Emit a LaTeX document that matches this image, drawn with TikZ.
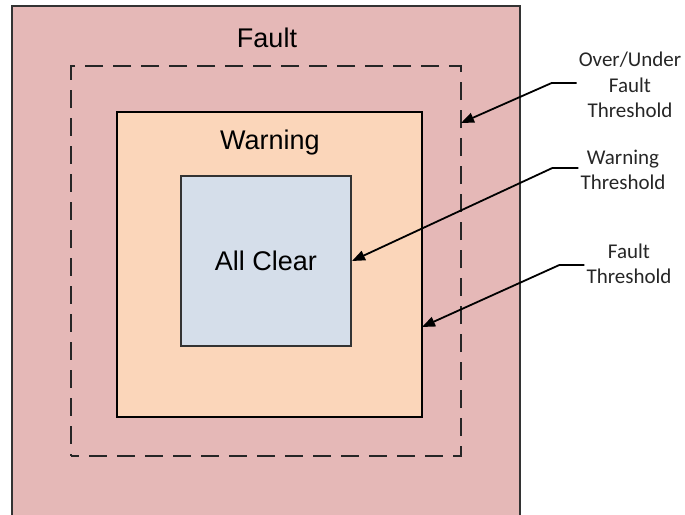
\documentclass[tikz,border=0pt]{standalone}
\usepackage{fontspec}
\setmainfont{Liberation Sans}
\newfontfamily\annfont{Carlito}
\usetikzlibrary{arrows.meta}
\definecolor{faultfill}{HTML}{E5B8B7}
\definecolor{warnfill}{HTML}{FBD6BA}
\definecolor{clearfill}{HTML}{D5DEEA}
\definecolor{edgegray}{HTML}{333333}
\tikzset{
  zone/.style={rectangle, inner sep=0pt, line width=2pt},
  biglabel/.style={font=\fontsize{27}{32}\selectfont, inner sep=0pt},
  annot/.style={font=\annfont\fontsize{21}{25.5}\selectfont, align=center, inner sep=2pt, text=black!85},
  pointer/.style={line width=1.8pt, -{Triangle[length=13pt,width=10pt]}}
}
\begin{document}
\begin{tikzpicture}[x=1pt,y=-1pt]
\useasboundingbox (0,0) rectangle (685,514);
\clip (0,0) rectangle (685,514);
% outer fault zone
\node[zone, draw=edgegray, fill=faultfill, minimum width=508pt, minimum height=510pt] (fault) at (266,261) {};
\node[biglabel] (faultlbl) at (267,38) {Fault};
% dashed over/under fault threshold
\node[zone, line width=2.5pt, draw=black!85, dash pattern=on 18pt off 10pt, dash phase=10pt, minimum width=390pt, minimum height=390pt] (ouf) at (266,261) {};
% warning zone
\node[zone, draw=black, fill=warnfill, minimum width=305pt, minimum height=305pt] (warn) at (269.5,264.5) {};
\node[biglabel] (warnlbl) at (270,143) {Warning};
% all clear zone
\node[zone, draw=edgegray, fill=clearfill, minimum width=170pt, minimum height=170pt, biglabel] (clear) at (266,261) {All Clear};
% annotations
\node[annot] (a1) at (630,85) {Over/Under\\Fault\\Threshold};
\node[annot] (a2) at (623,170) {Warning\\Threshold};
\node[annot] (a3) at (629,264) {Fault\\Threshold};
\coordinate (t1) at (461,123);
\coordinate (t3) at (422,327);
\draw[pointer] (a1.west |- 0,83) coordinate (s1) (s1) -- ++(-25,0) -- (t1);
\draw[pointer] (a2.west |- 0,168) coordinate (s2) (s2) -- ++(-26,0) -- (clear.east);
\draw[pointer] (a3.west |- 0,265) coordinate (s3) (s3) -- ++(-25,0) -- (t3);
\end{tikzpicture}
\end{document}
